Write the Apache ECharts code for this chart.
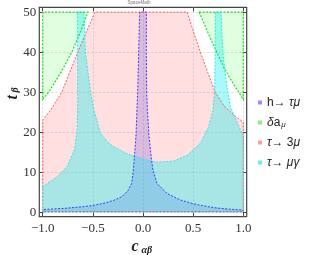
<!DOCTYPE html>
<html><head><meta charset="utf-8">
<script src="https://cdn.jsdelivr.net/npm/echarts@6/dist/echarts.min.js"></script>
<style>html,body{margin:0;padding:0;background:#fff}#c{width:309px;height:255px}</style>
</head><body><div id="c"></div>
<script>
// ---- data ----
const xTicks = [-1, -0.5, 0, 0.5, 1];
const yTicks = [0, 10, 20, 30, 40, 50];
const seriesNames = ['h→ τμ', 'δa_μ', 'τ→ 3μ', 'τ→ μγ'];
// region boundaries (c_ab, t_b)
const hTauMu = [[-1,0.15],[-1,0.7],[-0.9,0.8],[-0.75,1.05],[-0.6,1.4],[-0.5,1.7],[-0.4,2.2],[-0.3,2.9],[-0.21,3.9],[-0.15,5.4],[-0.113,7.2],[-0.098,10],[-0.088,13],[-0.07,19],[-0.06,25.6],[-0.053,30],[-0.043,40],[-0.033,50],[0.034,50],[0.033,40],[0.037,30],[0.045,25],[0.06,19],[0.085,13],[0.1,10.5],[0.14,7.2],[0.24,4.7],[0.37,3.1],[0.505,2.1],[0.705,1.16],[0.85,0.8],[1,0.55],[1,0.15]];
const deltaAmuLeft = [[-1,28.2],[-0.94,30],[-0.817,35],[-0.71,40],[-0.624,45],[-0.55,50],[-1,50]];
const deltaAmuRight = [[0.56,50],[0.645,45],[0.735,40],[0.81,36],[0.888,32.6],[1,28.2],[1,50]];
const tau3mu = [[-1,0.15],[-1,23],[-0.92,25.6],[-0.81,30],[-0.73,35],[-0.65,40],[-0.565,45],[-0.48,50],[0.44,50],[0.505,45],[0.572,40],[0.645,35],[0.72,30],[0.81,26.5],[0.905,24.3],[1,22.5],[1,0.15]];
const tauMuGamma = [[-1,0.15],[-1,6.4],[-0.856,8.9],[-0.757,11.4],[-0.684,15.6],[-0.657,20.6],[-0.651,25.6],[-0.651,35],[-0.653,50],[-0.591,50],[-0.574,40],[-0.524,30],[-0.49,25.6],[-0.425,19.75],[-0.35,17.5],[-0.292,16.4],[-0.159,14.6],[0.007,13.25],[0.14,12.5],[0.306,12.8],[0.44,14.2],[0.572,17.25],[0.655,21.4],[0.699,25.6],[0.715,30.6],[0.72,40],[0.722,50],[0.779,50],[0.785,45],[0.8,39],[0.838,31],[0.871,26.5],[0.905,24.3],[0.95,21.8],[1,19],[1,0.15]];

// ---- styles ----
const fills = ['rgba(60,60,255,0.22)','rgba(60,255,60,0.16)','rgba(255,40,40,0.15)','rgba(0,240,240,0.34)'];
const strokes = ['#3a3aff','#22dd22','#ff5a5a','#33e6e6'];
const iconColors = ['#9090ff','#88ee88','#ff9c9c','#66f0f0'];
const regions = [[hTauMu],[deltaAmuLeft, deltaAmuRight],[tau3mu],[tauMuGamma]];

function regionSeries(i, outline) {
  const polys = regions[i];
  const all = [].concat(...polys);
  return {
    type: 'custom', name: outline ? undefined : seriesNames[i],
    coordinateSystem: 'cartesian2d', xAxisIndex: 0, yAxisIndex: 0,
    z: outline ? 10 + i : 2 + i, silent: true, animation: false,
    data: all, encode: {x: 0, y: 1},
    itemStyle: {color: iconColors[i]},
    renderItem: function (params, api) {
      if (params.dataIndex !== 0) return null;
      return {
        type: 'group',
        children: polys.map(p => ({
          type: 'polygon',
          shape: {points: p.map(pt => api.coord(pt))},
          style: outline
            ? {fill: 'none', stroke: strokes[i], lineWidth: i === 1 ? 1.2 : 1, lineDash: [2, 1.5]}
            : {fill: fills[i], stroke: 'none'}
        }))
      };
    }
  };
}

const series = [];
for (let i = 0; i < 4; i++) series.push(regionSeries(i, false));
for (let i = 0; i < 4; i++) series.push(regionSeries(i, true));

const serif = 'Liberation Serif';
const fmt = v => (v < 0 ? '−' : '') + Math.abs(v).toFixed(1);
const legendRich = {
  'h→ τμ': '{n|h→ }{i|τμ}',
  'δa_μ': '{i|δ}{n|a}{s|μ}',
  'τ→ 3μ': '{i|τ}{n|→ 3}{i|μ}',
  'τ→ μγ': '{i|τ}{n|→ }{i|μγ}'
};
const tickStyle = {show: true, inside: true, length: 4, lineStyle: {color: '#444'}};

const chart = echarts.init(document.getElementById('c'), null, {renderer: 'canvas'});
chart.setOption({
  animation: false,
  backgroundColor: '#fff',
  grid: {left: 39.3, right: 62.3, top: 7.3, bottom: 38.3, show: true, borderColor: '#444', borderWidth: 1.2, backgroundColor: 'transparent'},
  xAxis: [{
    type: 'value', min: -1.034, max: 1.034, position: 'bottom',
    axisLine: {show: false, onZero: false},
    axisTick: Object.assign({customValues: xTicks}, tickStyle),
    axisLabel: {customValues: xTicks, formatter: fmt, fontFamily: serif, fontSize: 13, color: '#333', margin: 5},
    splitLine: {show: true, lineStyle: {color: '#d4d4d4', width: 0.8, type: [2, 2]}}
  }, {
    type: 'value', min: -1.034, max: 1.034, position: 'top',
    axisLine: {show: false, onZero: false},
    axisTick: Object.assign({customValues: xTicks}, tickStyle),
    axisLabel: {show: false}, splitLine: {show: false}
  }],
  yAxis: [{
    type: 'value', min: -1.1, max: 51.2, position: 'left',
    axisLine: {show: false, onZero: false},
    axisTick: Object.assign({customValues: yTicks}, tickStyle),
    axisLabel: {customValues: yTicks, fontFamily: serif, fontSize: 13, color: '#333', margin: 3},
    splitLine: {show: true, lineStyle: {color: '#d4d4d4', width: 0.8, type: [2, 2]}}
  }, {
    type: 'value', min: -1.1, max: 51.2, position: 'right',
    axisLine: {show: false, onZero: false},
    axisTick: Object.assign({customValues: yTicks}, tickStyle),
    axisLabel: {show: false}, splitLine: {show: false}
  }],
  legend: {
    orient: 'vertical', left: 253, top: 91, itemWidth: 4, itemHeight: 4, itemGap: 7,
    icon: 'rect', data: seriesNames,
    formatter: name => legendRich[name],
    textStyle: {
      fontFamily: 'Liberation Sans', fontSize: 12, color: '#222', lineHeight: 13,
      rich: {
        n: {fontFamily: 'Liberation Sans', fontSize: 12, color: '#222', lineHeight: 13},
        i: {fontFamily: 'Liberation Sans', fontStyle: 'italic', fontSize: 12, color: '#222', lineHeight: 13},
        s: {fontFamily: 'Liberation Sans', fontStyle: 'italic', fontSize: 8, color: '#222', lineHeight: 13, verticalAlign: 'bottom', padding: [5, 0, 0, 1]}
      }
    }
  },
  graphic: [
    {type: 'text', x: 139, y: 2.5, style: {text: 'SpaceMath', font: '4.5px Liberation Sans', fill: '#777', align: 'center', verticalAlign: 'middle'}},
    {type: 'text', x: 131.5, y: 246.5, style: {text: 'c', font: 'italic bold 16px Liberation Serif', fill: '#222', align: 'left', verticalAlign: 'middle'}},
    {type: 'text', x: 141.5, y: 250, style: {text: 'αβ', font: 'italic bold 10px Liberation Serif', fill: '#222', align: 'left', verticalAlign: 'middle'}},
    {type: 'group', x: 12, y: 97, rotation: Math.PI / 2, children: [
      {type: 'text', x: -2.5, y: 0.5, style: {text: 't', font: 'italic bold 16px Liberation Serif', fill: '#222', align: 'left', verticalAlign: 'middle'}},
      {type: 'text', x: 4.5, y: 3.5, style: {text: 'β', font: 'italic bold 10px Liberation Serif', fill: '#222', align: 'left', verticalAlign: 'middle'}}
    ]}
  ],
  series: series
});
</script></body></html>
